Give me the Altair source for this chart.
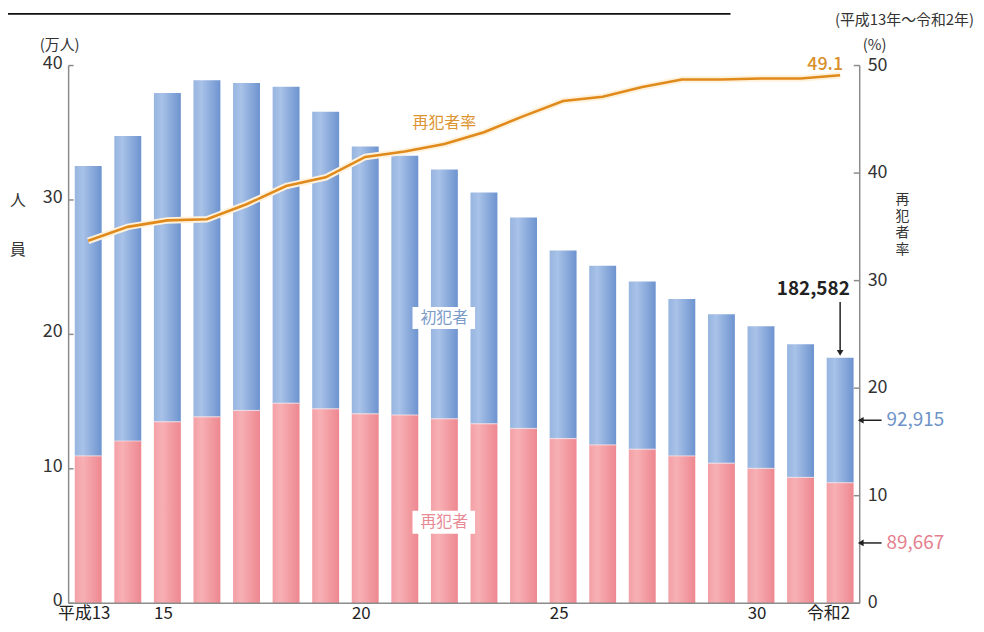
import altair as alt
import pandas as pd

FONT = "Noto Sans CJK JP"

years = ["平成13", "14", "15", "16", "17", "18", "19", "20", "21", "22",
         "23", "24", "25", "26", "27", "28", "29", "30", "令和元", "令和2"]
x_labels = ["平成13", "15", "20", "25", "30", "令和2"]
# 万人
repeat_offenders = [10.96, 12.07, 13.50, 13.87, 14.34, 14.88, 14.46, 14.09, 14.00, 13.72,
                    13.35, 13.00, 12.25, 11.78, 11.46, 10.96, 10.42, 10.03, 9.36, 8.9667]
first_offenders = [21.57, 22.69, 24.46, 25.03, 24.36, 23.55, 22.10, 19.89, 19.29, 18.54,
                   17.21, 15.70, 14.00, 13.33, 12.48, 11.68, 11.08, 10.58, 9.90, 9.2915]
# %
repeat_rate = [33.7, 35.0, 35.6, 35.7, 37.1, 38.8, 39.6, 41.5, 42.0, 42.7,
               43.8, 45.3, 46.7, 47.1, 48.0, 48.7, 48.7, 48.8, 48.8, 49.1]
left_ticks = [0, 10, 20, 30, 40]
right_ticks = [0, 10, 20, 30, 40, 50]
series_names = ["再犯者", "初犯者"]
total_label = "182,582"

W, H = 796, 541

rows = []
for i, y in enumerate(years):
    rows.append({"year": y, "kind": series_names[0], "value": repeat_offenders[i], "order": 0})
    rows.append({"year": y, "kind": series_names[1], "value": first_offenders[i], "order": 1})
bars_df = pd.DataFrame(rows)
rate_df = pd.DataFrame({"year": years, "rate": repeat_rate})

AX_COLOR = "#8c8c8c"
x_enc = alt.X("year:N", sort=years,
              scale=alt.Scale(paddingInner=0.32, paddingOuter=0.155),
              axis=alt.Axis(values=x_labels, title=None, labelAngle=0, tickSize=0,
                            domain=False, labelFont=FONT,
                            labelFontSize=17, labelColor="#222", labelPadding=2,
                            labelAlign={"condition": {"test": "datum.value === '令和2'",
                                                      "value": "right"}, "value": "center"},
                            labelOffset={"condition": {"test": "datum.value === '令和2'",
                                                       "value": 10}, "value": -4}))
y_left_scale = alt.Scale(domain=[0, 40], nice=False)
y_right_scale = alt.Scale(domain=[0, 50], nice=False)

blue_grad = alt.Gradient(gradient="linear", x1=0, x2=1, y1=0, y2=0, stops=[
    alt.GradientStop(color="#97B5E0", offset=0),
    alt.GradientStop(color="#A8C2E8", offset=0.3),
    alt.GradientStop(color="#6D93CF", offset=1)])
red_grad = alt.Gradient(gradient="linear", x1=0, x2=1, y1=0, y2=0, stops=[
    alt.GradientStop(color="#F3A0A6", offset=0),
    alt.GradientStop(color="#F7B0B4", offset=0.3),
    alt.GradientStop(color="#EE8790", offset=1)])

stacked = alt.Chart(bars_df).transform_stack(
    stack="value", as_=["y0", "y1"], groupby=["year"], sort=[alt.SortField("order")])

red_bars = stacked.transform_filter(alt.datum.kind == series_names[0]).mark_bar(
    color=red_grad).encode(
    x=x_enc, y=alt.Y("y1:Q", scale=y_left_scale, axis=None), y2="y0:Q")
blue_bars = stacked.transform_filter(alt.datum.kind == series_names[1]).mark_bar(
    color=blue_grad).encode(x=x_enc, y=alt.Y("y1:Q", scale=y_left_scale, axis=None), y2="y0:Q")
seam = stacked.transform_filter(alt.datum.kind == series_names[0]).mark_tick(
    color="#FBE3E6", thickness=1.2, size=27).encode(
    x=x_enc, y=alt.Y("y1:Q", scale=y_left_scale, axis=None))

# left axis (drawn from tick list on the left scale)
lt_df = pd.DataFrame({"t": left_ticks})
left_tick_marks = alt.Chart(lt_df).mark_rule(color=AX_COLOR, strokeWidth=1.5).encode(
    y=alt.Y("t:Q", scale=y_left_scale, axis=None), x=alt.value(0), x2=alt.value(5))
left_tick_labels = alt.Chart(lt_df).mark_text(
    align="right", baseline="middle", font=FONT, fontSize=18, color="#333", dy=-2).encode(
    y=alt.Y("t:Q", scale=y_left_scale, axis=None), x=alt.value(-6), text="t:Q")
dom_df = pd.DataFrame({"t": [0]})
left_domain = alt.Chart(dom_df).mark_rule(color=AX_COLOR, strokeWidth=1.5).encode(
    x=alt.value(0), y=alt.value(0), y2=alt.value(H))
right_domain = alt.Chart(dom_df).mark_rule(color=AX_COLOR, strokeWidth=1.5).encode(
    x=alt.value(W), y=alt.value(0), y2=alt.value(H))
bottom_domain = alt.Chart(dom_df).mark_rule(color=AX_COLOR, strokeWidth=1.5).encode(
    x=alt.value(0), x2=alt.value(W), y=alt.value(H))

# arrows at last bar (mid of each segment)
last = stacked.transform_filter(alt.datum.year == years[-1]).transform_calculate(
    mid="(datum.y0 + datum.y1) / 2",
    label="format(round(datum.value * 10000), ',')")
arrow_lines = last.mark_rule(color="#222", strokeWidth=1.5).encode(
    y=alt.Y("mid:Q", scale=y_left_scale, axis=None), x=alt.value(818), x2=alt.value(798))
arrow_heads = last.mark_point(shape="triangle-left", filled=True, color="#222", size=45,
                              opacity=1).encode(
    y=alt.Y("mid:Q", scale=y_left_scale, axis=None), x=alt.value(797))
arrow_text = last.mark_text(align="left", baseline="middle", font=FONT, fontSize=19,
                            dx=0).encode(
    y=alt.Y("mid:Q", scale=y_left_scale, axis=None), x=alt.value(823), text="label:N",
    color=alt.Color("kind:N", scale=alt.Scale(domain=series_names,
                                              range=["#E4808E", "#6E93C8"]), legend=None))

# total arrow
tot_df = pd.DataFrame({"year": [years[-1]], "label": [total_label]})
tot_rule = alt.Chart(tot_df).mark_rule(color="#222", strokeWidth=1.5).encode(
    x=x_enc, y=alt.value(238), y2=alt.value(288))
tot_head = alt.Chart(tot_df).mark_point(shape="triangle-down", filled=True, color="#222",
                                        size=45, opacity=1).encode(x=x_enc, y=alt.value(289))
tot_text = alt.Chart(pd.DataFrame({"label": [total_label]})).mark_text(
    align="right", baseline="middle", font=FONT, fontSize=19, fontWeight=600,
    color="#222").encode(text="label:N", x=alt.value(786), y=alt.value(225))


def label(text, x, y, size, color="#333", align="center", baseline="middle", weight=400, **kw):
    return alt.Chart(pd.DataFrame({"t": [text]})).mark_text(
        align=align, baseline=baseline, font=FONT, fontSize=size, color=color,
        fontWeight=weight, **kw).encode(text="t:N", x=alt.value(x), y=alt.value(y))


def box(x1, x2, y1, y2):
    return alt.Chart(pd.DataFrame({"t": [0]})).mark_rect(color="white").encode(
        x=alt.value(x1), x2=alt.value(x2), y=alt.value(y1), y2=alt.value(y2))


annotations = [
    box(346, 409, 243, 265),
    label("初犯者", 378, 254, 16, color="#7B9CC9"),
    box(346, 409, 448, 471),
    label("再犯者", 378, 459, 16, color="#E88A96"),
    label("再犯者率", 378, 58, 16, color="#DC9433"),
    label("(万人)", -9, -21, 15),
    label("(%)", 811, -21, 15),
    label("(平成13年～令和2年)", 911, -46, 15, align="right"),
    label("人", -51, 136, 16),
    label("員", -51, 186, 16),
    label("再", 839, 135, 14),
    label("犯", 839, 152, 14),
    label("者", 839, 169, 14),
    label("率", 839, 186, 14),
    label("【グラフ③】全国における刑法犯検挙人員・再犯者率推移", -61, -55, 28,
          color="#222", align="left", baseline="bottom"),
    alt.Chart(dom_df).mark_rule(color="#111", strokeWidth=2).encode(
        x=alt.value(-61), x2=alt.value(666), y=alt.value(-52)),
]

left = alt.layer(red_bars, blue_bars, seam, left_domain, right_domain, bottom_domain,
                 left_tick_marks, left_tick_labels, arrow_lines, arrow_heads,
                 arrow_text, tot_rule, tot_head, tot_text, *annotations)

rate_base = alt.Chart(rate_df)
halo = rate_base.mark_line(color="#FFF2DC", strokeWidth=6.5).encode(
    x=x_enc, y=alt.Y("rate:Q", scale=y_right_scale, axis=None))
line = rate_base.mark_line(color="#E08A1C", strokeWidth=2.6).encode(
    x=x_enc, y=alt.Y("rate:Q", scale=y_right_scale, axis=None))
rate_label = rate_base.transform_filter(alt.datum.year == years[-1]).mark_text(
    align="right", baseline="middle", dx=3, dy=-10, font=FONT, fontSize=18, fontWeight=500,
    color="#D8902C").encode(x=x_enc, y=alt.Y("rate:Q", scale=y_right_scale, axis=None),
                            text=alt.Text("rate:Q", format=".1f"))
rt_df = pd.DataFrame({"t": right_ticks})
right_tick_marks = alt.Chart(rt_df).mark_rule(color=AX_COLOR, strokeWidth=1.5).encode(
    y=alt.Y("t:Q", scale=y_right_scale, axis=None), x=alt.value(W - 6), x2=alt.value(W))
right_tick_labels = alt.Chart(rt_df).mark_text(
    align="left", baseline="middle", font=FONT, fontSize=18, color="#333").encode(
    y=alt.Y("t:Q", scale=y_right_scale, axis=None), x=alt.value(W + 8), text="t:Q")

right = alt.layer(halo, line, rate_label, right_tick_marks, right_tick_labels)

chart = alt.layer(left, right).resolve_scale(y="independent", color="independent").properties(
    width=W, height=H,
    padding={"left": 61, "top": 56, "right": 117, "bottom": 19},
    autosize=alt.AutoSizeParams(type="none"),
    background="white",
).configure_view(stroke=None)

chart.save("out.html", embed_options={"renderer": "svg", "actions": False})
